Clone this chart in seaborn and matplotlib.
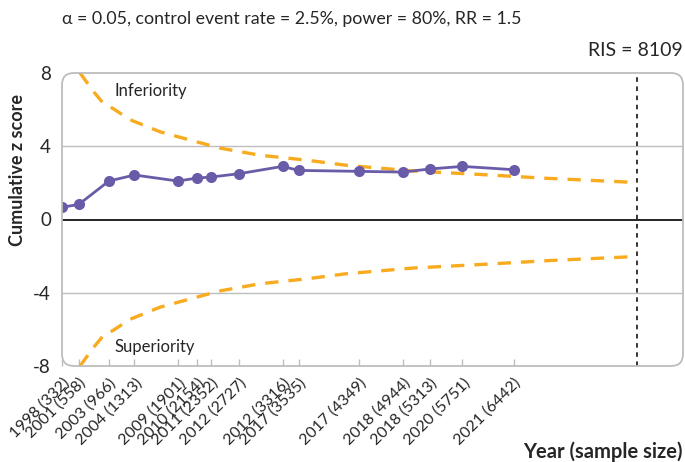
import matplotlib
matplotlib.use("Agg")
import matplotlib.pyplot as plt
from matplotlib.patches import FancyBboxPatch
import seaborn as sns
import pandas as pd

# ---- data ----
sample_sizes = [332, 558, 966, 1313, 1901, 2154, 2352, 2727, 3316, 3535,
                4349, 4944, 5313, 5751, 6442]
years = ["1998", "2001", "2003", "2004", "2009", "2010", "2011", "2012",
         "2012", "2017", "2017", "2018", "2018", "2020", "2021"]
z_scores = [0.67, 0.82, 2.10, 2.43, 2.10, 2.26, 2.32, 2.50, 2.90, 2.68,
            2.63, 2.59, 2.76, 2.90, 2.72]

bound_n = [576, 756, 891, 1026, 1252, 1658, 2109, 2470, 3011, 3643,
           4184, 5082, 5988, 6891, 8109]
upper_bound = [8.0, 7.0, 6.34, 6.05, 5.45, 4.79, 4.29, 3.90, 3.51, 3.24,
               2.96, 2.65, 2.46, 2.25, 2.02]
lower_bound = [-8.0, -7.0, -6.34, -6.05, -5.45, -4.79, -4.29, -3.90, -3.51, -3.24,
               -2.96, -2.65, -2.46, -2.25, -2.02]

ris = 8109
tick_labels = [f"{y} ({n})" for y, n in zip(years, sample_sizes)]
y_ticks = [8, 4, 0, -4, -8]

# ---- style ----
sns.set_theme(style="white")
plt.rcParams["font.family"] = ["Lato", "DejaVu Sans"]

purple = "#6a5ba8"
orange = "#f8ab1f"
frame_gray = "#bdbdbd"

fig = plt.figure(figsize=(6.85, 4.62), dpi=100)
ax = fig.add_axes([62 / 685, 1 - 366 / 462, 621 / 685, 293 / 462])

df_z = pd.DataFrame({"n": sample_sizes, "z": z_scores})
df_b = pd.DataFrame({"n": bound_n, "up": upper_bound, "lo": lower_bound})

# grid / reference lines
for yv in (4, -4):
    ax.axhline(yv, color=frame_gray, lw=1, zorder=1)
ax.axhline(0, color="black", lw=1.2, zorder=1)
ax.axvline(ris, color="black", lw=1.1, ls=(0, (3, 3)), zorder=2)

sns.lineplot(data=df_b, x="n", y="up", ax=ax, color=orange, lw=2.4,
             linestyle=(0, (4, 3)), zorder=3)
sns.lineplot(data=df_b, x="n", y="lo", ax=ax, color=orange, lw=2.4,
             linestyle=(0, (4, 3)), zorder=3)
sns.lineplot(data=df_z, x="n", y="z", ax=ax, color=purple, lw=2.0,
             marker="o", markersize=8, markeredgewidth=0, zorder=5)

ax.set_xlim(332, 8735)
ax.set_ylim(-8, 8)

for s in ax.spines.values():
    s.set_visible(False)

w_px, h_px = 621, 293
frame = FancyBboxPatch((0, 0), 1, 1,
                       boxstyle=f"round,pad=0,rounding_size={12 / w_px}",
                       mutation_aspect=w_px / h_px,
                       transform=ax.transAxes, fill=False,
                       edgecolor=frame_gray, lw=1.3, clip_on=False, zorder=6)
ax.add_patch(frame)

ax.set_yticks(y_ticks)
ax.set_yticklabels([str(v) for v in y_ticks], fontsize=13.5)
ax.tick_params(axis="y", length=0, pad=8)

ax.set_xticks(sample_sizes)
ax.set_xticklabels(tick_labels, rotation=45, ha="right",
                   rotation_mode="anchor", fontsize=11.5)
ax.tick_params(axis="x", direction="in", length=5, width=1,
               color=frame_gray, pad=7, bottom=True)

ax.set_xlabel("")
ax.set_ylabel("Cumulative z score", fontsize=13, fontweight="bold")
ax.yaxis.set_label_coords(-36 / 621, (366 - 170) / 293)

ax.text(0.085, 0.94, "Inferiority", transform=ax.transAxes, fontsize=12,
        va="center", ha="left")
ax.text(0.085, 0.065, "Superiority", transform=ax.transAxes, fontsize=12,
        va="center", ha="left")

fig.text(62 / 685, 1 - 19 / 462,
         "α = 0.05, control event rate = 2.5%, power = 80%, RR = 1.5",
         fontsize=12.8, ha="left", va="center")
fig.text(683 / 685, 1 - 51 / 462, f"RIS = {ris}", fontsize=14,
         ha="right", va="center")
fig.text(683 / 685, 1 - 452 / 462, "Year (sample size)", fontsize=14.5,
         fontweight="bold", ha="right", va="center")

fig.savefig("out.png", dpi=100)
